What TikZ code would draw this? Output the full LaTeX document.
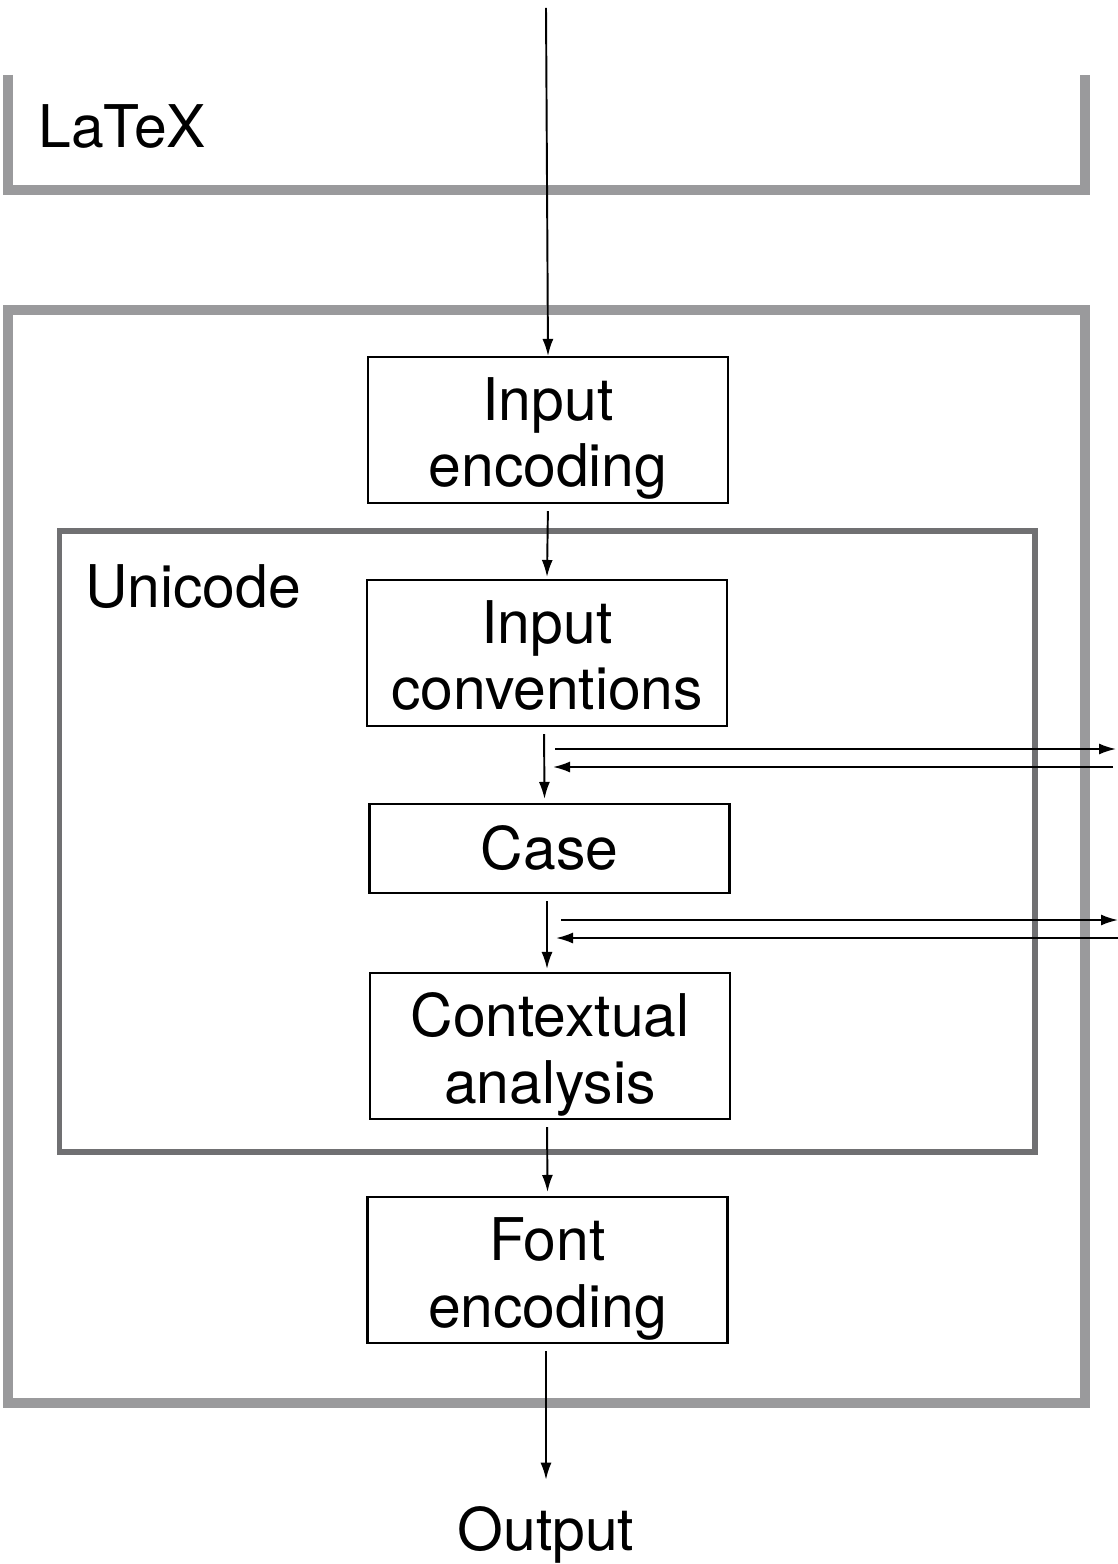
\documentclass[tikz,border=0pt]{standalone}
\usepackage{fontspec}
\setmainfont{TeX Gyre Heros}
\usetikzlibrary{arrows.meta}

\definecolor{framegray}{HTML}{9A9A9C}
\definecolor{unigray}{HTML}{707072}

\tikzset{
  stage/.style={draw, line width=1.2pt, minimum width=7.2cm, minimum height=2.92cm,
    align=center, inner sep=0pt, text height=2.53cm, text depth=0.25cm,
    font=\fontsize{33.5}{38}\selectfont},
  flow/.style={-{Latex[length=0.34cm,width=0.22cm]}, line width=1.1pt},
  label/.style={font=\fontsize{33.5}{38}\selectfont, inner sep=0pt}
}

\begin{document}
\begin{tikzpicture}[x=0.02cm,y=-0.02cm]
          \useasboundingbox (0,0) rectangle (1118,1564);

          % grey frames
          \draw [framegray, line width=5.7pt] (8,75) -- (8,190) -- (1085,190) -- (1085,75);
          \draw [framegray, line width=5.7pt] (8,310) rectangle (1085,1403);
          \draw [unigray, line width=2.9pt] (59.5,531) rectangle (1035,1152);

          \node [label, anchor=base west] (latex) at (38,148) {LaTeX};
          \node [label, anchor=base west] (unicode) at (85,607) {Unicode};

          % stages
          \node [stage] (ienc) at (548,430) {Input\\encoding};
          \node [stage] (iconv) at (547,653) {Input\\conventions};
          \node [stage, minimum height=1.78cm, text height=, text depth=] (case) at (549.5,848.5) {Case};
          \node [stage] (context) at (550,1046) {Contextual\\analysis};
          \node [stage] (fenc) at (547.5,1270) {Font\\encoding};
          \node [label, anchor=base] (output) at (546,1550) {Output};

          \coordinate (input) at (546,8);
          \coordinate (conv out) at (1116,749);
          \coordinate (conv in) at (1113,767);
          \coordinate (conv back) at (553,767);
          \coordinate (conv send) at (555,749);
          \coordinate (case out) at (1118,920);
          \coordinate (case in) at (1118,938);
          \coordinate (case back) at (556,938);
          \coordinate (case send) at (561,920);

          % main flow
          \draw [flow] (input) -- (ienc.north);
          \draw [flow, shorten <=0.14cm] (ienc.south) -- ([yshift=0.04cm]iconv.north);
          \draw [flow, shorten <=0.14cm] ([xshift=-0.06cm]iconv.south) -- ([xshift=-0.1cm,yshift=0.08cm]case.north);
          \draw [flow, shorten <=0.14cm] ([xshift=-0.05cm]case.south) -- ([xshift=-0.06cm,yshift=0.06cm]context.north);
          \draw [flow, shorten <=0.14cm] ([xshift=-0.06cm]context.south) -- ([yshift=0.08cm]fenc.north);
          \draw [flow, shorten <=0.14cm, shorten >=0.52cm] ([xshift=-0.03cm]fenc.south) -- (output.north);

          % side loops
          \draw [flow] (conv send) -- (conv out);
          \draw [flow] (conv in) -- (conv back);
          \draw [flow] (case send) -- (case out);
          \draw [flow] (case in) -- (case back);
        \end{tikzpicture}
\end{document}
